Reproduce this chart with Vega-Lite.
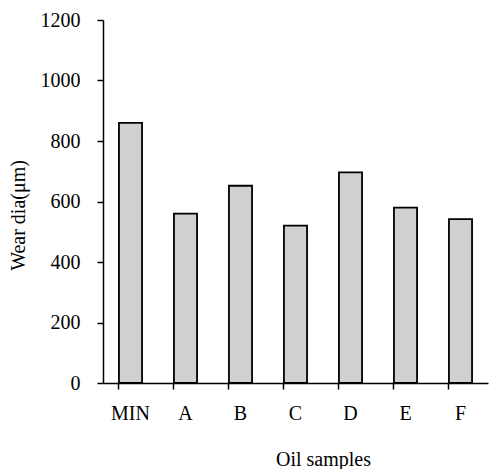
{
  "$schema": "https://vega.github.io/schema/vega-lite/v6.json",
  "autosize": {"type": "none"},
  "padding": {"left": 103, "top": 20, "right": 11, "bottom": 86},
  "width": 385,
  "height": 363,
  "background": "white",
  "data": {
    "values": [
      {"sample": "MIN", "wear": 860},
      {"sample": "A", "wear": 560},
      {"sample": "B", "wear": 652},
      {"sample": "C", "wear": 520},
      {"sample": "D", "wear": 696},
      {"sample": "E", "wear": 580},
      {"sample": "F", "wear": 542}
    ]
  },
  "config": {
    "view": {"stroke": null},
    "axis": {
      "labelFont": "Liberation Serif",
      "titleFont": "Liberation Serif",
      "labelFontSize": 20,
      "titleFontSize": 20,
      "labelColor": "black",
      "titleColor": "black",
      "titleFontWeight": "normal",
      "domainColor": "black",
      "tickColor": "black",
      "domainWidth": 1.5,
      "tickWidth": 1.5,
      "ticks": true,
      "grid": false
    }
  },
  "mark": {"type": "bar", "fill": "#d0d0d0", "stroke": "black", "strokeWidth": 1.8},
  "encoding": {
    "x": {
      "field": "sample",
      "type": "nominal",
      "sort": null,
      "scale": {"paddingInner": 0.58, "paddingOuter": 0.29},
      "axis": {
        "title": "Oil samples",
        "labelAngle": 0,
        "bandPosition": 0,
        "tickSize": 6,
        "labelPadding": 14,
        "titleX": 220,
        "titleY": 76,
        "titleBaseline": "middle",
        "encode": {"ticks": {"update": {"y": {"value": 0}, "y2": {"value": -6}}}}
      }
    },
    "y": {
      "field": "wear",
      "type": "quantitative",
      "scale": {"domain": [0, 1200], "nice": false},
      "axis": {
        "title": "Wear dia(μm)",
        "format": "d",
        "values": [0, 200, 400, 600, 800, 1000, 1200],
        "tickSize": 6,
        "labelPadding": 17,
        "titleX": -85,
        "titleY": 195,
        "titleBaseline": "middle",
        "encode": {"ticks": {"update": {"x": {"value": 0}, "x2": {"value": 6}}}}
      }
    }
  }
}
